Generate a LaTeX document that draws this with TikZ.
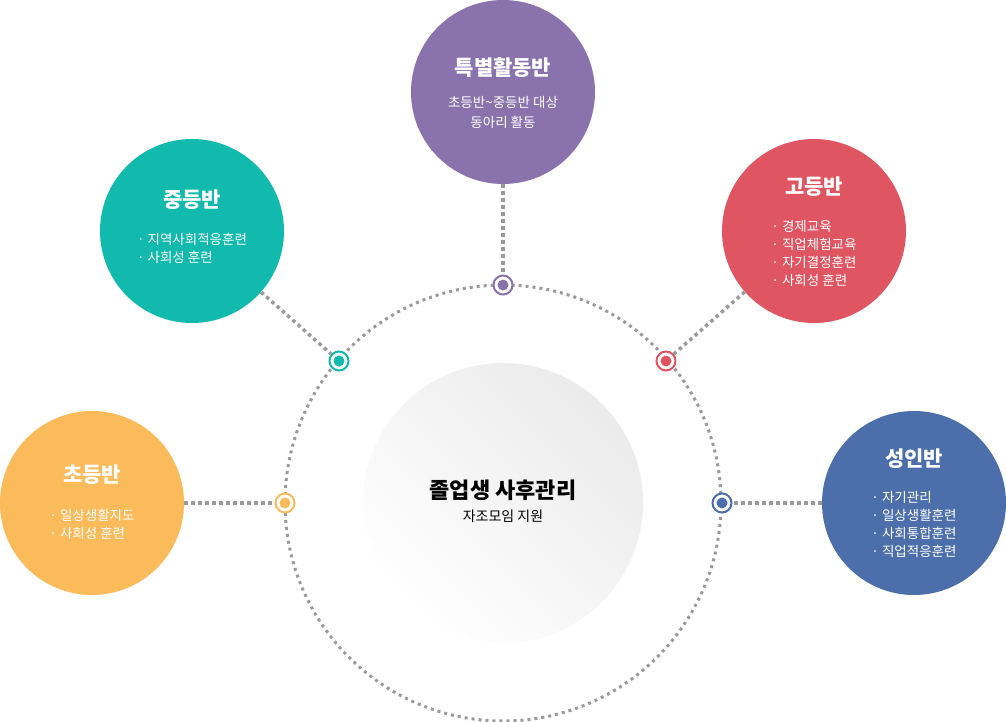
\documentclass[tikz,border=0pt]{standalone}
\usepackage{fontspec}
\setmainfont{Noto Sans CJK KR}
\usetikzlibrary{positioning}
\definecolor{cpurple}{HTML}{8A72AD}
\definecolor{cteal}{HTML}{12BAAE}
\definecolor{cred}{HTML}{E05562}
\definecolor{corange}{HTML}{FBBB5B}
\definecolor{cblue}{HTML}{4C6FAC}
\definecolor{cdot}{HTML}{9A9A9A}
\tikzstyle{group}  = [circle, minimum size=184pt, inner sep=0pt, text=white]
\tikzstyle{marker} = [circle, minimum size=19pt, inner sep=0pt, draw=#1, line width=2pt, fill=white, path picture={\fill[#1] (path picture bounding box.center) circle (5.5pt);}]
\tikzstyle{link}   = [cdot, line width=3.5pt, dash pattern=on 3.5pt off 3.5pt]
\tikzstyle{ttl}    = [font=\bfseries\fontsize{21}{24}\selectfont, text=white]
\tikzstyle{lst}    = [font=\fontsize{13.5}{18}\selectfont, text=white, align=left]
\tikzset{every node/.style={align=center}}

\begin{document}
\begin{tikzpicture}[x=1pt,y=-1pt]
    \useasboundingbox (0,0) rectangle (1006,722);
    % dotted ring and centre
    \draw [cdot, line width=3pt, dash pattern=on 3pt off 4pt] (503,503) circle (218);
    \shade [left color=black!8, right color=white, shading angle=-45] (503,503) circle (140);
    \node (ctr) at (503,490) [font=\bfseries\fontsize{22}{26}\selectfont] {졸업생 사후관리};
    \node [below=2pt of ctr, font=\fontsize{14}{18}\selectfont] {자조모임 지원};

    % groups
    \node (pur) at (503, 92) [group, fill=cpurple] {};
    \node (tea) at (192,231) [group, fill=cteal]   {};
    \node (red) at (814,231) [group, fill=cred]    {};
    \node (ora) at ( 92,503) [group, fill=corange] {};
    \node (blu) at (914,503) [group, fill=cblue]   {};

    \node (mpur) at (503,285) [marker=cpurple] {};
    \node (mtea) at (339,361) [marker=cteal]   {};
    \node (mred) at (666,361) [marker=cred]    {};
    \node (mora) at (285,503) [marker=corange] {};
    \node (mblu) at (722,503) [marker=cblue]   {};

    \draw [link] (pur) -- (mpur);
    \draw [link] (tea) -- (mtea);
    \draw [link] (red) -- (mred);
    \draw [link] (ora) -- (mora);
    \draw [link] (blu) -- (mblu);

    % texts
    \node at (503, 68) [ttl] {특별활동반};
    \node at (503,112) [lst, align=center, font=\fontsize{13.5}{20}\selectfont] {초등반\textasciitilde 중등반 대상\\동아리 활동};
    \node at (192,200) [ttl] {중등반};
    \node at (192,248) [lst] {· 지역사회적응훈련\\· 사회성 훈련};
    \node at (814,187) [ttl] {고등반};
    \node at (814,253) [lst] {· 경제교육\\· 직업체험교육\\· 자기결정훈련\\· 사회성 훈련};
    \node at ( 92,475) [ttl] {초등반};
    \node at ( 92,524) [lst] {· 일상생활지도\\· 사회성 훈련};
    \node at (914,459) [ttl] {성인반};
    \node at (914,524) [lst] {· 자기관리\\· 일상생활훈련\\· 사회통합훈련\\· 직업적응훈련};
\end{tikzpicture}
\end{document}
